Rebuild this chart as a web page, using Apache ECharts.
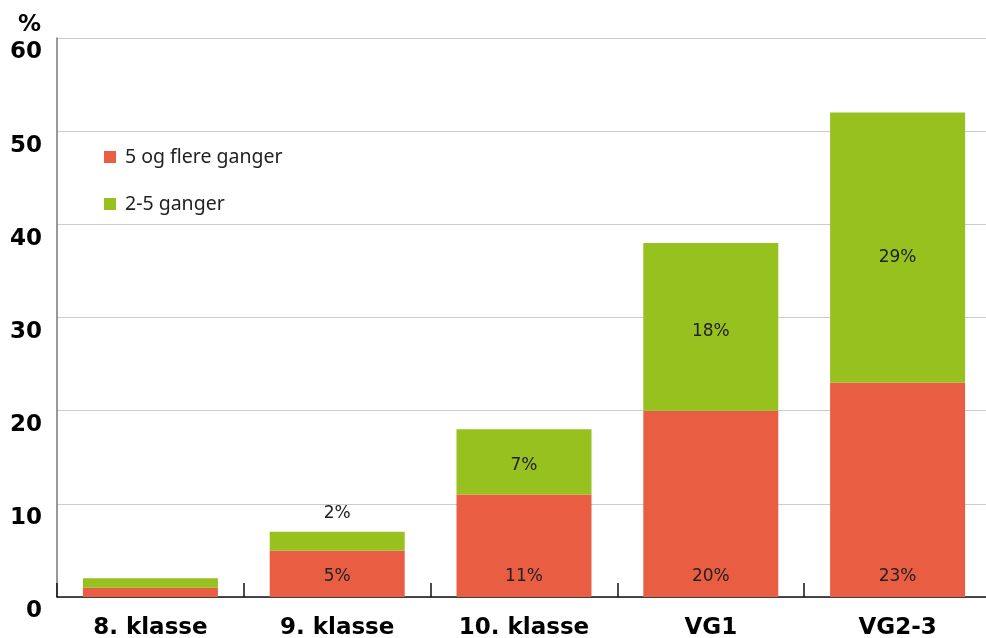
<!DOCTYPE html>
<html>
<head>
<meta charset="utf-8">
<script src="https://cdn.jsdelivr.net/npm/echarts@6/dist/echarts.min.js"></script>
<style>
  html, body { margin: 0; padding: 0; background: #fff; overflow: hidden; }
  #chart { width: 986px; height: 638px; }
</style>
</head>
<body>
<div id="chart"></div>
<script>
const categories = ['8. klasse', '9. klasse', '10. klasse', 'VG1', 'VG2-3']
const redValues = [1, 5, 11, 20, 23]   // 5 og flere ganger
const greenValues = [1, 2, 7, 18, 29]  // 2-5 ganger
const yTicks = [0, 10, 20, 30, 40, 50, 60]

const labelFont = { fontFamily: 'DejaVu Sans', fontSize: 17, color: '#222' }
const axisFont = { fontFamily: 'DejaVu Sans', fontWeight: 'bold', fontSize: 23, color: '#000' }

// green labels sit a bit below the middle of the segment in the original
const greenOffsets = [0, 0, 4, 5, 10]

const chart = echarts.init(document.getElementById('chart'))
chart.setOption({
  animation: false,
  legend: {
    orient: 'vertical',
    left: 104,
    top: 147,
    padding: 0,
    itemWidth: 12,
    itemHeight: 12,
    itemGap: 27,
    icon: 'rect',
    textStyle: { fontFamily: 'Noto Sans', fontSize: 19.5, color: '#222', padding: [0, 0, 0, 4] },
    data: ['5 og flere ganger', '2-5 ganger']
  },
  // plot runs a few px past the right edge in the original
  grid: { left: 57, right: -5, top: 38, bottom: 41, containLabel: false, outerBoundsMode: 'none' },
  xAxis: {
    type: 'category',
    data: categories,
    axisLine: { lineStyle: { color: '#111', width: 1.5 } },
    axisTick: { show: true, inside: true, length: 14, lineStyle: { color: '#111', width: 1.5 } },
    axisLabel: { margin: 20, ...axisFont }
  },
  yAxis: {
    type: 'value',
    min: yTicks[0],
    max: yTicks[yTicks.length - 1],
    interval: 10,
    name: '%',
    nameLocation: 'end',
    nameGap: 1,
    nameTextStyle: { ...axisFont, align: 'right', padding: [0, 16, 0, 0] },
    axisLine: { show: true, lineStyle: { color: '#777', width: 1.5 } },
    axisTick: { show: false },
    splitLine: { lineStyle: { color: '#ccc' } },
    axisLabel: { margin: 15, verticalAlign: 'top', padding: [3, 0, 0, 0], ...axisFont }
  },
  series: [
    {
      name: '5 og flere ganger',
      type: 'bar',
      stack: 'total',
      barWidth: 135,
      itemStyle: { color: '#E95E43' },
      data: redValues.map((v, i) => ({
        value: v,
        label: { show: i > 0 }
      })),
      label: {
        position: 'insideBottom',
        distance: 12,
        formatter: '{c}%',
        ...labelFont
      }
    },
    {
      name: '2-5 ganger',
      type: 'bar',
      stack: 'total',
      barWidth: 135,
      itemStyle: { color: '#97C11F' },
      data: greenValues.map((v, i) => ({
        value: v,
        label: {
          show: i > 0,
          position: i === 1 ? 'top' : 'inside',
          distance: 10,
          offset: [0, greenOffsets[i]]
        }
      })),
      label: {
        formatter: '{c}%',
        ...labelFont
      }
    }
  ]
})
</script>
</body>
</html>
